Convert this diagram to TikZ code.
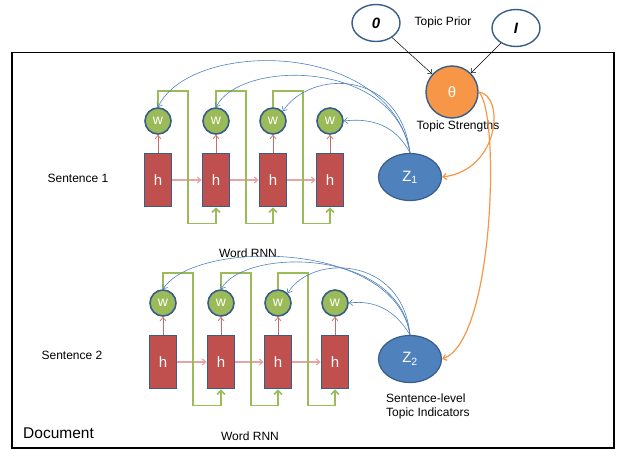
\documentclass[tikz,border=0pt]{standalone}
\usepackage{fontspec}
\setmainfont{Liberation Sans}
\usetikzlibrary{arrows.meta, shapes.geometric, calc}

\definecolor{wgreen}{HTML}{9BBB59}
\definecolor{hred}{HTML}{C0504D}
\definecolor{zblue}{HTML}{4F81BD}
\definecolor{edge}{HTML}{385D8A}
\definecolor{thorange}{HTML}{F79646}
\definecolor{hpink}{HTML}{E6A5A3}

\begin{document}
\begin{tikzpicture}[x=1pt, y=-1pt,
        txt/.style={font=\fontsize{12}{14}\selectfont, inner sep=0pt},
        wnode/.style={circle, draw=edge, line width=1.6pt, fill=wgreen, text=white, minimum size=26pt, inner sep=0pt, font=\fontsize{14}{14}\selectfont},
        hnode/.style={rectangle, draw=edge, line width=1.6pt, fill=hred, text=white, minimum width=27pt, minimum height=53pt, inner sep=0pt, font=\fontsize{15}{15}\selectfont},
        znode/.style={ellipse, draw=edge, line width=1.2pt, fill=zblue, text=white, minimum width=63pt, minimum height=47pt, inner sep=0pt, font=\fontsize{15}{15}\selectfont},
        prior/.style={ellipse, draw=edge, line width=1.4pt, fill=white, minimum width=48pt, minimum height=37pt, inner sep=0pt, font=\fontsize{15}{15}\selectfont\bfseries\itshape},
        tip/.style={-{Straight Barb[length=3.5pt, width=6pt]}},
        redarr/.style={tip, draw=hred!85, line width=0.7pt},
        pinkarr/.style={tip, draw=hpink, line width=1.2pt},
        grn/.style={draw=wgreen, line width=1.6pt, -{Straight Barb[length=4pt, width=8pt]}},
        blu/.style={tip, draw=zblue, line width=0.6pt},
        org/.style={tip, draw=thorange, line width=1.2pt},
        blk/.style={tip, draw=black, line width=0.5pt}
    ]
        \useasboundingbox (0,0) rectangle (618,449);

        % document plate
        \node[draw, line width=1.5pt, anchor=north west, minimum width=602pt, minimum height=395pt, inner sep=0pt] (doc) at (11,52) {};
        \node[font=\fontsize{15.5}{17}\selectfont, anchor=west, inner sep=0pt] (doclbl) at (23,433) {Document};

        % topic prior and strengths
        \node[prior] (mu)    at (376,23) {0};
        \node[prior] (sigma) at (516,28) {I};
        \node[txt]   (priorlbl) at (443,22) {Topic Prior};
        \node[circle, draw=edge, line width=1.4pt, fill=thorange, text=white, minimum size=52pt, inner sep=0pt, font=\fontsize{15}{15}\selectfont] (theta) at (452,92) {θ};
        \node[txt] (thetalbl) at (458,126) {Topic Strengths};
        \draw[blk] (mu) -- (theta);
        \draw[blk] (sigma) -- (theta);

        % sentence level topic indicators
        \node[znode] (z1) at (410,177) {Z\textsubscript{1}};
        \node[znode] (z2) at (410,359) {Z\textsubscript{2}};
        \node[txt, font=\fontsize{12}{14}\selectfont, anchor=west, align=left] (zlbl) at (386,406) {Sentence-level\\Topic Indicators};

        % theta -> z
        \draw[org] (theta.east) .. controls (505,95) and (500,170) .. (z1.east);
        \draw[org] (theta.east) .. controls (500,110) and (495,340) .. (z2.east);

        % word rnns
        \foreach \r/\dx/\yw/\yh in {1/0/121/180, 2/5/303/362} {
            \foreach \i/\x in {1/158, 2/216, 3/273, 4/330} {
                \node[wnode] (w\r\i) at (\x+\dx,\yw) {w};
                \node[hnode] (h\r\i) at (\x+\dx,\yh) {h};
                \draw[redarr] (h\r\i) -- (w\r\i);
            }
            \foreach \i/\j in {1/2, 2/3, 3/4} {
                \draw[pinkarr] (h\r\i) -- (h\r\j);
                \draw[grn] (w\r\i.north) -- ++(0,-16) -| ([shift={(15.5,16)}]h\r\i.south east) -| (h\r\j.south);
            }
        }

        \node[txt] (s1lbl) at (78,178) {Sentence 1};
        \node[txt] (s2lbl) at (72,355) {Sentence 2};
        \node[txt] (rnn1) at (248,253) {Word RNN};
        \node[txt] (rnn2) at (250,436) {Word RNN};

        % z -> words
        \draw[blu] (z1.north) .. controls +(-20,-114) and +(32,-68) .. (w11.north);
        \draw[blu] (z1.north) .. controls +(-15,-94) and +(24,-48) .. (w12.north);
        \draw[blu] (z1.north) .. controls +(-10,-84) and +(28,-42) .. (w13.north east);
        \draw[blu] (z1.north) .. controls +(-15,-29) and +(26,-3) .. (w14.east);
        \draw[blu] (z2.north) .. controls +(-15,-95) and +(32,-50) .. (w21.north);
        \draw[blu] (z2.north) .. controls +(-12,-87) and +(24,-42) .. (w22.north);
        \draw[blu] (z2.north) .. controls +(-8,-80) and +(23,-39) .. (w23.north east);
        \draw[blu] (z2.north) .. controls +(-15,-25) and +(26,-3) .. (w24.east);
    \end{tikzpicture}
\end{document}
